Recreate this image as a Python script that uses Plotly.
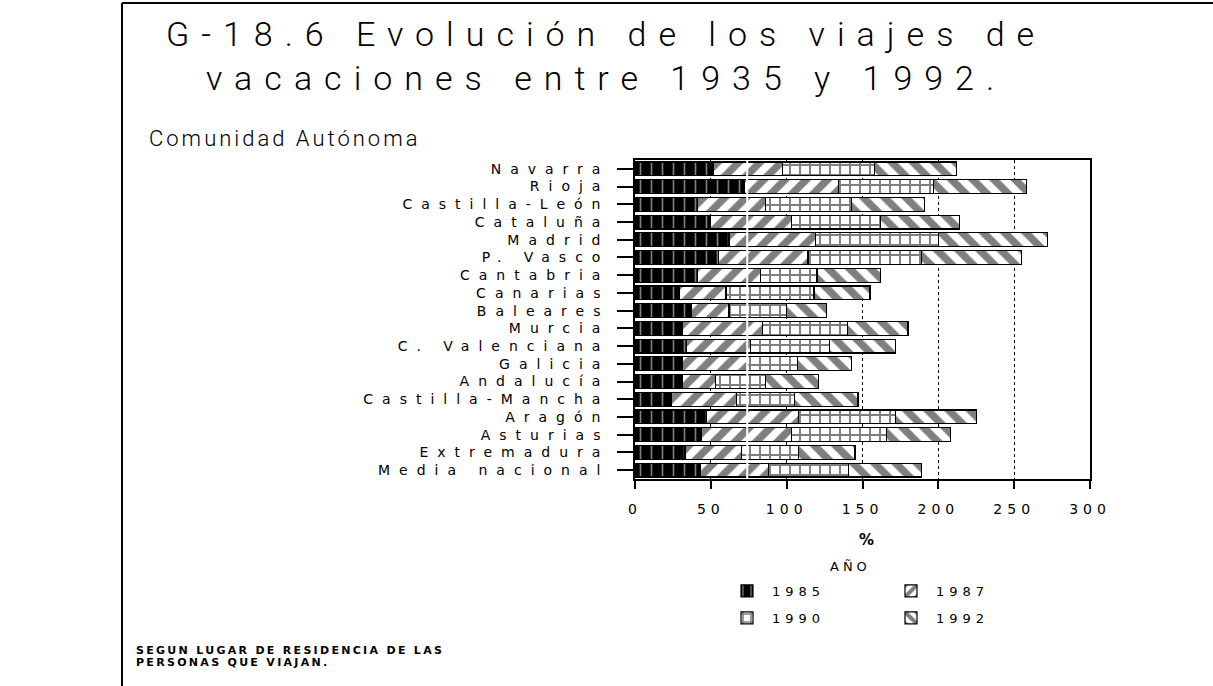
import plotly.graph_objects as go

# Holiday-trip growth by autonomous community, stacked by survey year
regions = [
    "Navarra", "Rioja", "Castilla-León", "Cataluña", "Madrid", "P. Vasco",
    "Cantabria", "Canarias", "Baleares", "Murcia", "C. Valenciana", "Galicia",
    "Andalucía", "Castilla-Mancha", "Aragón", "Asturias", "Extremadura",
    "Media nacional",
]
v1985 = [52, 72, 41, 50, 62, 55, 41, 29, 37, 31, 34, 31, 31, 24, 47, 44, 33, 43]
v1987 = [45, 62, 45, 53, 57, 59, 42, 31, 25, 53, 42, 43, 22, 43, 61, 59, 37, 45]
v1990 = [61, 63, 57, 59, 81, 75, 37, 58, 38, 56, 52, 33, 33, 38, 64, 63, 38, 53]
v1992 = [54, 61, 48, 52, 72, 66, 42, 37, 26, 40, 44, 36, 35, 42, 53, 42, 37, 48]
years = ["1985", "1987", "1990", "1992"]
x_ticks = [0, 50, 100, 150, 200, 250, 300]

W, H = 1213, 686
L, R, T, B = 635, 123, 160, 207
PW, PH = W - L - R, H - T - B


def px(x):
    return (x - L) / PW


def py(y):
    return (H - B - y) / PH


def spaced(s, gap):
    return f'<span style="letter-spacing:{gap}px">{s}</span>'


styles = {
    "1985": dict(color="black", pattern=dict(shape="|", fgcolor="white", bgcolor="black",
                                             size=11, solidity=0.15)),
    "1987": dict(color="white", pattern=dict(shape="/", fgcolor="black", bgcolor="white",
                                             size=15, solidity=0.5)),
    "1990": dict(color="white", pattern=dict(shape="+", fgcolor="black", bgcolor="white",
                                             size=10, solidity=0.35)),
    "1992": dict(color="white", pattern=dict(shape="\\", fgcolor="black", bgcolor="white",
                                             size=15, solidity=0.5)),
}

series = dict(zip(years, [v1985, v1987, v1990, v1992]))
legend_of = {"1985": "legend", "1987": "legend", "1990": "legend2", "1992": "legend2"}

fig = go.Figure()
for yr in years:
    st = styles[yr]
    fig.add_trace(go.Bar(
        y=regions, x=series[yr], orientation="h", name=spaced(yr, 5),
        marker=dict(color=st["color"], pattern=st["pattern"],
                    line=dict(color="black", width=1.2)),
        legend=legend_of[yr],
    ))

legend_common = dict(orientation="h", xanchor="left", yanchor="middle",
                     entrywidth=109, entrywidthmode="pixels", itemwidth=40,
                     traceorder="normal",
                     font=dict(family="DejaVu Sans", size=13, color="black"),
                     bgcolor="rgba(0,0,0,0)")

fig.update_layout(
    width=W, height=H,
    margin=dict(l=L, r=R, t=T, b=B, pad=0),
    paper_bgcolor="white", plot_bgcolor="white",
    barmode="stack", bargap=0.22,
    font=dict(family="DejaVu Sans", color="black"),
    xaxis=dict(
        range=[0, 300], tickvals=x_ticks,
        ticktext=[spaced(str(t), 5) for t in x_ticks],
        tickfont=dict(family="DejaVu Sans", size=14, color="black"),
        ticks="outside", ticklen=8, tickcolor="black", tickwidth=1.5,
        ticklabelstandoff=8,
        showline=True, linecolor="black", linewidth=1.5, mirror=True,
        showgrid=True, gridcolor="black", griddash="dot", gridwidth=1.2,
        zeroline=False, fixedrange=True,
    ),
    yaxis=dict(
        autorange="reversed", tickvals=regions,
        ticktext=[spaced(r, 9) for r in regions],
        tickfont=dict(family="DejaVu Sans", size=14, color="black"),
        ticks="outside", ticklen=16, tickcolor="black", tickwidth=1.5,
        ticklabelstandoff=5,
        showline=True, linecolor="black", linewidth=1.5, mirror=True,
        showgrid=False, fixedrange=True,
    ),
    legend=dict(legend_common, x=px(722), y=py(591)),
    legend2=dict(legend_common, x=px(722), y=py(618)),
    showlegend=True,
)

annotations = [
    dict(text=spaced("G-18.6 Evolución de los viajes de", 12) + "<br>" +
         spaced("vacaciones entre 1935 y 1992.", 12),
         x=px(606), y=py(56), xanchor="center", yanchor="middle",
         font=dict(family="Roboto", size=34, color="black", weight=300)),
    dict(text=spaced("Comunidad Autónoma", 3), x=px(147), y=py(138),
         xanchor="left", yanchor="middle",
         font=dict(family="Roboto", size=22, color="black", weight=300)),
    dict(text="%", x=px(866), y=py(540), xanchor="center", yanchor="middle",
         font=dict(family="DejaVu Sans", size=15, color="black", weight="bold")),
    dict(text=spaced("AÑO", 4), x=px(850), y=py(566), xanchor="center", yanchor="middle",
         font=dict(family="DejaVu Sans", size=13, color="black")),
    dict(text=spaced("SEGUN LUGAR DE RESIDENCIA DE LAS", 2.3), x=px(134), y=py(650),
         xanchor="left", yanchor="middle",
         font=dict(family="DejaVu Sans", size=11, color="black", weight="bold")),
    dict(text=spaced("PERSONAS QUE VIAJAN.", 2.3), x=px(134), y=py(662),
         xanchor="left", yanchor="middle",
         font=dict(family="DejaVu Sans", size=11, color="black", weight="bold")),
]
for a in annotations:
    a.update(xref="paper", yref="paper", showarrow=False)
fig.update_layout(annotations=annotations)

# page frame and the light rule crossing the bars
fig.add_shape(type="line", xref="paper", yref="paper",
              x0=px(122), x1=px(W), y0=py(3), y1=py(3),
              line=dict(color="black", width=2))
fig.add_shape(type="line", xref="paper", yref="paper",
              x0=px(122), x1=px(122), y0=py(3), y1=py(H),
              line=dict(color="black", width=2))
fig.add_shape(type="line", xref="x", yref="paper", x0=74, x1=74, y0=0, y1=1,
              line=dict(color="white", width=2), layer="above")

fig.write_html("out.html")
